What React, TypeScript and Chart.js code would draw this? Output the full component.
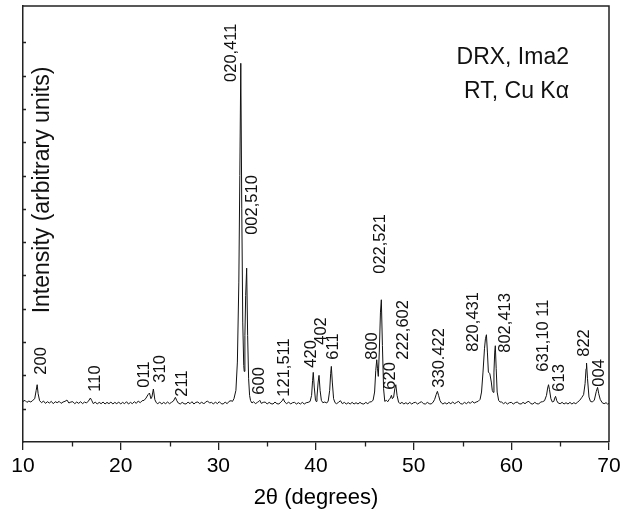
import React, { useEffect, useRef } from "react";
import { Chart, registerables } from "chart.js";

Chart.register(...registerables);

// Powder diffraction scan: [2θ (degrees), intensity (arbitrary units)]
const scan: [number, number][] = [
  [10.0, 1.22], [10.2, 1.25], [10.4, 1.19], [10.6, 1.23], [10.8, 1.2], [11.0, 1.25],
  [11.2, 1.3], [11.35, 1.55], [11.45, 1.72], [11.55, 1.45], [11.7, 1.24], [11.9, 1.18],
  [12.1, 1.23], [12.3, 1.16], [12.5, 1.21], [12.7, 1.17], [12.9, 1.22], [13.1, 1.15],
  [13.3, 1.21], [13.5, 1.18], [13.7, 1.22], [13.9, 1.16], [14.1, 1.2], [14.3, 1.22],
  [14.5, 1.26], [14.7, 1.17], [14.9, 1.2], [15.1, 1.21], [15.3, 1.15], [15.5, 1.2],
  [15.7, 1.16], [15.9, 1.21], [16.1, 1.15], [16.3, 1.2], [16.5, 1.17], [16.7, 1.23],
  [16.9, 1.32], [17.05, 1.24], [17.2, 1.15], [17.4, 1.2], [17.6, 1.14], [17.8, 1.19],
  [18.0, 1.15], [18.2, 1.2], [18.4, 1.14], [18.6, 1.19], [18.8, 1.15], [19.0, 1.2],
  [19.2, 1.14], [19.4, 1.19], [19.6, 1.15], [19.8, 1.2], [20.0, 1.14], [20.2, 1.19],
  [20.4, 1.15], [20.6, 1.21], [20.8, 1.14], [21.0, 1.19], [21.2, 1.15], [21.4, 1.21],
  [21.6, 1.16], [21.8, 1.23], [22.0, 1.18], [22.2, 1.24], [22.4, 1.25], [22.6, 1.32],
  [22.8, 1.42], [22.95, 1.47], [23.1, 1.3], [23.2, 1.35], [23.35, 1.59], [23.5, 1.27],
  [23.65, 1.18], [23.8, 1.15], [24.0, 1.2], [24.2, 1.14], [24.4, 1.19], [24.6, 1.15],
  [24.8, 1.2], [25.0, 1.15], [25.2, 1.19], [25.4, 1.23], [25.6, 1.34], [25.75, 1.24],
  [25.9, 1.17], [26.1, 1.14], [26.3, 1.19], [26.5, 1.15], [26.7, 1.14], [26.9, 1.2],
  [27.1, 1.15], [27.3, 1.21], [27.5, 1.14], [27.7, 1.19], [27.9, 1.2], [28.1, 1.15],
  [28.3, 1.2], [28.5, 1.14], [28.7, 1.2], [28.9, 1.23], [29.1, 1.17], [29.3, 1.19],
  [29.5, 1.14], [29.7, 1.2], [29.9, 1.15], [30.1, 1.21], [30.3, 1.15], [30.5, 1.14],
  [30.7, 1.2], [30.9, 1.15], [31.1, 1.22], [31.3, 1.24], [31.45, 1.22], [31.6, 1.3],
  [31.8, 1.55], [31.95, 2.4], [32.1, 4.8], [32.2, 8.0], [32.3, 11.37], [32.4, 7.0],
  [32.5, 3.6], [32.6, 2.3], [32.65, 2.12], [32.72, 3.2], [32.8, 4.4], [32.9, 5.22],
  [33.0, 3.2], [33.1, 1.9], [33.2, 1.4], [33.3, 1.24], [33.45, 1.17], [33.6, 1.21],
  [33.8, 1.15], [34.0, 1.19], [34.15, 1.22], [34.25, 1.25], [34.4, 1.16], [34.6, 1.19],
  [34.8, 1.2], [35.0, 1.14], [35.2, 1.19], [35.4, 1.15], [35.6, 1.14], [35.8, 1.2],
  [36.0, 1.15], [36.2, 1.14], [36.4, 1.2], [36.55, 1.24], [36.65, 1.3], [36.8, 1.2],
  [37.0, 1.15], [37.2, 1.2], [37.4, 1.14], [37.6, 1.18], [37.8, 1.19], [38.0, 1.14],
  [38.2, 1.18], [38.4, 1.14], [38.6, 1.19], [38.8, 1.14], [39.0, 1.18], [39.2, 1.19],
  [39.4, 1.22], [39.55, 1.4], [39.65, 1.85], [39.72, 2.09], [39.82, 1.65], [39.95, 1.25],
  [40.0, 1.22], [40.1, 1.35], [40.22, 1.8], [40.31, 2.0], [40.42, 1.55], [40.55, 1.25],
  [40.7, 1.18], [40.9, 1.2], [41.1, 1.17], [41.25, 1.23], [41.4, 1.55], [41.5, 2.05],
  [41.57, 2.27], [41.67, 1.8], [41.8, 1.3], [41.95, 1.18], [42.1, 1.15], [42.3, 1.19],
  [42.5, 1.24], [42.7, 1.15], [42.9, 1.19], [43.1, 1.14], [43.3, 1.18], [43.5, 1.14],
  [43.7, 1.19], [43.9, 1.14], [44.1, 1.18], [44.3, 1.14], [44.5, 1.19], [44.7, 1.15],
  [44.9, 1.14], [45.1, 1.19], [45.3, 1.15], [45.5, 1.2], [45.7, 1.21], [45.85, 1.26],
  [46.0, 1.5], [46.12, 2.15], [46.22, 2.47], [46.3, 2.2], [46.38, 1.97], [46.48, 2.7],
  [46.6, 3.9], [46.69, 4.27], [46.8, 2.9], [46.92, 1.6], [47.04, 1.22], [47.2, 1.25],
  [47.35, 1.21], [47.5, 1.28], [47.62, 1.32], [47.72, 1.4], [47.82, 1.3], [47.95, 1.35],
  [48.07, 1.6], [48.17, 1.72], [48.3, 1.4], [48.45, 1.2], [48.6, 1.15], [48.8, 1.19],
  [49.0, 1.14], [49.2, 1.18], [49.4, 1.14], [49.6, 1.19], [49.8, 1.14], [50.0, 1.18],
  [50.2, 1.19], [50.4, 1.14], [50.6, 1.18], [50.8, 1.21], [51.0, 1.15], [51.2, 1.14],
  [51.4, 1.19], [51.6, 1.15], [51.8, 1.14], [52.0, 1.2], [52.15, 1.28], [52.3, 1.42],
  [52.43, 1.52], [52.55, 1.4], [52.7, 1.24], [52.85, 1.17], [53.0, 1.14], [53.2, 1.18],
  [53.4, 1.14], [53.6, 1.19], [53.8, 1.15], [54.0, 1.2], [54.2, 1.15], [54.4, 1.19],
  [54.6, 1.22], [54.8, 1.15], [55.0, 1.14], [55.2, 1.19], [55.4, 1.15], [55.6, 1.2],
  [55.8, 1.16], [56.0, 1.22], [56.2, 1.17], [56.4, 1.2], [56.6, 1.22], [56.8, 1.28],
  [56.95, 1.5], [57.1, 2.1], [57.25, 2.8], [57.35, 3.1], [57.45, 3.22], [57.55, 2.7],
  [57.65, 2.1], [57.8, 2.05], [57.95, 1.8], [58.05, 1.55], [58.15, 1.49], [58.22, 2.1],
  [58.3, 2.7], [58.36, 2.89], [58.45, 2.2], [58.55, 1.5], [58.7, 1.25], [58.85, 1.2],
  [59.0, 1.2], [59.2, 1.15], [59.4, 1.19], [59.6, 1.14], [59.8, 1.18], [60.0, 1.19],
  [60.2, 1.14], [60.4, 1.18], [60.6, 1.2], [60.8, 1.15], [61.0, 1.14], [61.2, 1.19],
  [61.4, 1.15], [61.6, 1.2], [61.8, 1.22], [62.0, 1.15], [62.2, 1.14], [62.4, 1.19],
  [62.6, 1.15], [62.8, 1.14], [63.0, 1.2], [63.2, 1.21], [63.4, 1.24], [63.6, 1.4],
  [63.72, 1.62], [63.81, 1.72], [63.9, 1.58], [64.05, 1.3], [64.2, 1.2], [64.35, 1.22],
  [64.45, 1.32], [64.53, 1.37], [64.65, 1.24], [64.8, 1.17], [65.0, 1.15], [65.2, 1.19],
  [65.4, 1.14], [65.6, 1.18], [65.8, 1.14], [66.0, 1.19], [66.2, 1.14], [66.4, 1.18],
  [66.6, 1.15], [66.8, 1.2], [67.0, 1.25], [67.2, 1.33], [67.4, 1.42], [67.55, 1.75],
  [67.65, 2.2], [67.7, 2.37], [67.8, 1.9], [67.95, 1.35], [68.1, 1.22], [68.3, 1.2],
  [68.5, 1.26], [68.7, 1.52], [68.83, 1.64], [68.95, 1.45], [69.1, 1.28], [69.3, 1.18],
  [69.5, 1.15], [69.7, 1.18], [69.85, 1.14], [70.0, 1.16],
];

// Miller indices of the reflections and where each label sits (2θ, intensity)
const reflectionLabels = [
  "200", "110", "011", "310", "211", "020,411", "002,510", "600", "121,511",
  "420", "402", "611", "800", "022,521", "620", "222,602", "330.422", "820,431",
  "802,413", "631,10 11", "613", "822", "004",
];
const labelAngle = [
  11.87, 17.45, 22.47, 24.11, 26.37, 31.39, 33.54, 34.26, 36.82,
  39.49, 40.51, 41.74, 45.74, 46.56, 47.58, 48.92, 52.6, 56.09,
  59.37, 63.28, 64.92, 67.47, 69.01,
];
const labelLevel = [
  2.02, 1.51, 1.63, 1.78, 1.36, 10.81, 6.22, 1.42, 1.36,
  2.23, 2.92, 2.47, 2.47, 5.05, 1.57, 2.47, 1.63, 2.71,
  2.68, 2.11, 1.51, 2.56, 1.66,
];

const majorTicks = [10, 20, 30, 40, 50, 60, 70];
const minorTicks = [15, 25, 35, 45, 55, 65];
const intensityTicks = [1, 2, 3, 4, 5, 6, 7, 8, 9, 10, 11, 12];

const FONT = '"Liberation Sans", Arial, sans-serif';
const INK = "#111";
const AXIS = "#222";

const decorations = {
  id: "decorations",
  afterDraw(chart: any) {
    const { ctx, chartArea: a } = chart;
    const xs = chart.scales.x;
    const ys = chart.scales.y;
    ctx.save();

    // top and right frame
    ctx.strokeStyle = AXIS;
    ctx.lineWidth = 1.5;
    ctx.beginPath();
    ctx.moveTo(a.left, a.top);
    ctx.lineTo(a.right, a.top);
    ctx.lineTo(a.right, a.bottom);
    ctx.stroke();

    // minor 2θ ticks
    ctx.lineWidth = 1.3;
    ctx.beginPath();
    for (const v of minorTicks) {
      const px = Math.round(xs.getPixelForValue(v)) + 0.5;
      ctx.moveTo(px, a.bottom);
      ctx.lineTo(px, a.bottom + 4.5);
    }
    // inward intensity ticks
    for (const v of intensityTicks) {
      const py = Math.round(ys.getPixelForValue(v)) + 0.5;
      ctx.moveTo(a.left, py);
      ctx.lineTo(a.left + 3, py);
    }
    ctx.stroke();

    // reflection labels
    ctx.fillStyle = INK;
    ctx.font = `16.5px ${FONT}`;
    ctx.textAlign = "left";
    ctx.textBaseline = "middle";
    reflectionLabels.forEach((txt, i) => {
      ctx.save();
      ctx.translate(xs.getPixelForValue(labelAngle[i]), ys.getPixelForValue(labelLevel[i]));
      ctx.rotate(-Math.PI / 2);
      ctx.fillText(txt, 0, 0);
      ctx.restore();
    });

    // intensity axis title inside the frame
    ctx.font = `23px ${FONT}`;
    ctx.textAlign = "center";
    ctx.save();
    ctx.translate(a.left + 20, a.top + 184);
    ctx.rotate(-Math.PI / 2);
    ctx.fillText("Intensity (arbitrary units)", 0, 0);
    ctx.restore();

    // measurement conditions
    ctx.font = `23px ${FONT}`;
    ctx.textAlign = "right";
    ctx.fillText("DRX, Ima2", a.right - 40, a.top + 52);
    ctx.fillText("RT, Cu K\u03b1", a.right - 40, a.top + 86);

    ctx.restore();
  },
};

export default function App() {
  const canvasRef = useRef<HTMLCanvasElement | null>(null);

  useEffect(() => {
    if (!canvasRef.current) return;
    const chart = new Chart(canvasRef.current, {
      type: "line",
      data: {
        datasets: [
          {
            data: scan.map(([x, y]) => ({ x, y })),
            borderColor: INK,
            borderWidth: 1,
            pointRadius: 0,
            tension: 0,
            fill: false,
          },
        ],
      },
      options: {
        animation: false,
        responsive: true,
        maintainAspectRatio: false,
        layout: { padding: { top: 6, right: 25, left: 0, bottom: 0 } },
        plugins: { legend: { display: false }, tooltip: { enabled: false } },
        scales: {
          x: {
            type: "linear",
            min: 10,
            max: 70,
            afterBuildTicks: (s: any) => {
              s.ticks = majorTicks.map((v) => ({ value: v }));
            },
            afterFit: (s: any) => {
              s.height = 76;
            },
            ticks: {
              color: "#000",
              padding: 4,
              maxRotation: 0,
              font: { family: FONT, size: 21 },
            },
            grid: {
              drawOnChartArea: false,
              drawTicks: true,
              tickLength: 8,
              color: AXIS,
              lineWidth: 1.3,
            },
            border: { display: true, color: AXIS, width: 1.5 },
            title: {
              display: true,
              text: "2\u03b8 (degrees)",
              color: "#000",
              font: { family: FONT, size: 22 },
              padding: { top: 0, bottom: 7 },
            },
          },
          y: {
            type: "linear",
            min: 0,
            max: 13.09,
            afterFit: (s: any) => {
              s.width = 23;
            },
            ticks: { display: false },
            grid: { display: false },
            border: { display: true, color: AXIS, width: 1.5 },
          },
        },
      },
      plugins: [decorations],
    });
    return () => chart.destroy();
  }, []);

  return (
    <div style={{ position: "fixed", left: 0, top: 0, width: 634, height: 518, background: "#fff" }}>
      <canvas ref={canvasRef} />
    </div>
  );
}
